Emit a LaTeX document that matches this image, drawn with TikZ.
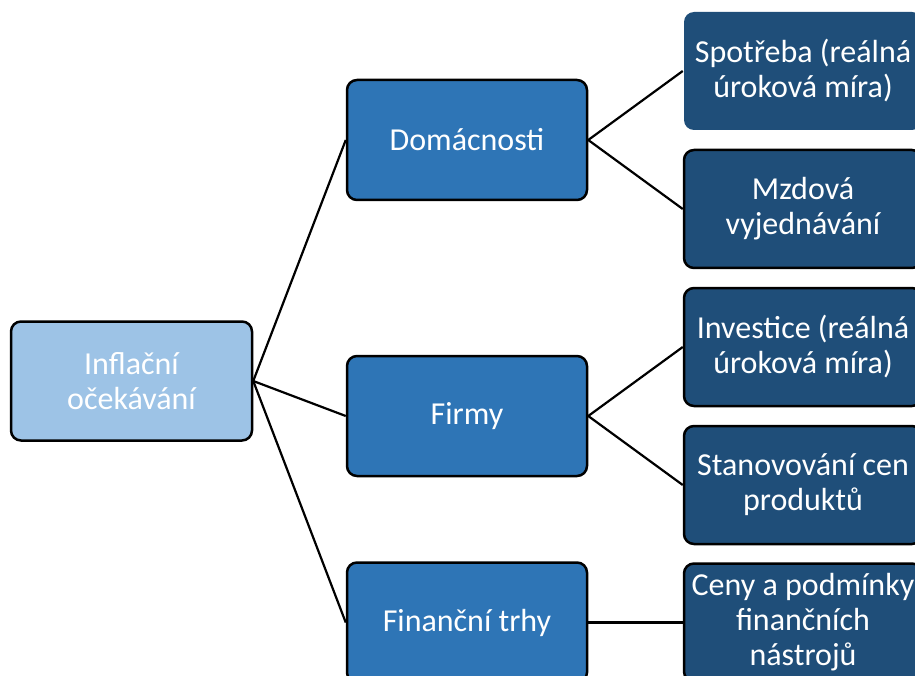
\documentclass[tikz,border=0pt]{standalone}
\usepackage{fontspec}
\setmainfont{Carlito}
\definecolor{lightb}{HTML}{9DC3E6}
\definecolor{midb}{HTML}{2E75B6}
\definecolor{darkb}{HTML}{1F4E79}
\tikzset{
  box/.style={rectangle, rounded corners=10pt, line width=2.5pt, draw=black,
    text=white, align=center, inner sep=0pt,
    font=\fontsize{32}{35}\selectfont},
  rootbox/.style={box, fill=lightb, minimum width=241pt, minimum height=119pt},
  midbox/.style={box, fill=midb, minimum width=240pt, minimum height=120pt},
  leafbox/.style={box, fill=darkb, minimum width=238pt, minimum height=118pt},
  link/.style={line width=2.2pt, draw=black},
}
\begin{document}
\begin{tikzpicture}[x=1pt, y=-1pt]
\clip (0,0) rectangle (915,676);
\fill[white] (0,0) rectangle (915,676);
\node[rootbox] (root) at (131.5,381) {Inflační\\očekávání};
\node[midbox] (dom) at (467,140) {Domácnosti};
\node[midbox] (firm) at (467,416) {Firmy};
\node[midbox] (fin) at (467,622.5) {Finanční trhy};
\node[leafbox, draw=none] (spot) at (803,71) {Spotřeba (reálná\\úroková míra)};
\node[leafbox] (mzd) at (803,209) {Mzdová\\vyjednávání};
\node[leafbox] (inv) at (803,347) {Investice (reálná\\úroková míra)};
\node[leafbox] (stan) at (803,485) {Stanovování cen\\produktů};
\node[leafbox] (ceny) at (803,622.5) {Ceny a podmínky\\finančních\\nástrojů};
\draw[link] (root.east) -- (dom.west);
\draw[link] (root.east) -- (firm.west);
\draw[link] (root.east) -- (fin.west);
\draw[link] (dom.east) -- (spot.west);
\draw[link] (dom.east) -- (mzd.west);
\draw[link] (firm.east) -- (inv.west);
\draw[link] (firm.east) -- (stan.west);
\draw[link] (fin.east) -- (ceny.west);
\end{tikzpicture}
\end{document}
